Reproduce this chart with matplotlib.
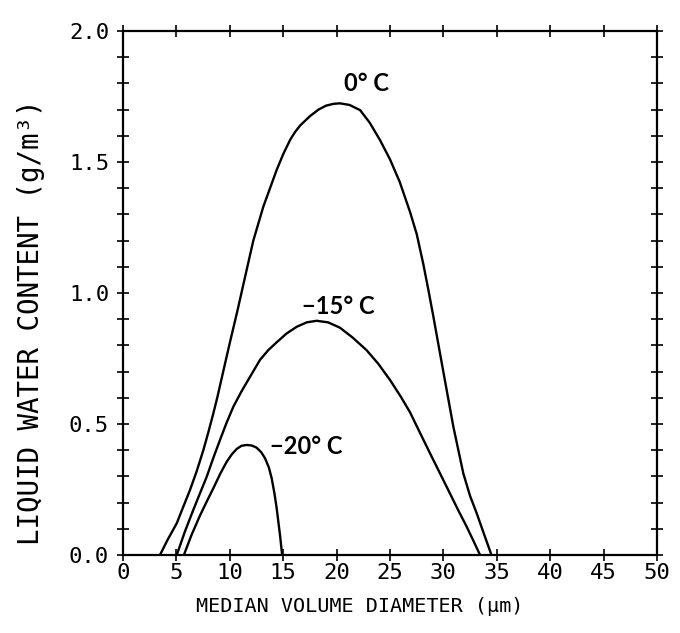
import matplotlib
matplotlib.use("Agg")
import matplotlib.pyplot as plt
from matplotlib.ticker import MultipleLocator, FormatStrFormatter

# 0 deg C curve
x_0c = [3.46, 4.2, 5.03, 5.7, 6.27, 6.9, 7.52, 8.0, 8.46, 8.85, 9.24, 10.0, 10.7, 11.42,
        12.2, 13.14, 14.39, 15.0, 15.64, 16.1, 16.6, 17.5, 18.3, 19.0, 19.7, 20.3, 21.2, 22.2,
        23.1, 24.06, 25.0, 25.9, 26.87, 27.5, 28.12, 28.6, 29.06, 29.99, 30.93, 31.86, 32.5,
        33.12, 33.8, 34.5]
y_0c = [0.0, 0.06, 0.121, 0.19, 0.248, 0.32, 0.40, 0.47, 0.541, 0.605, 0.675, 0.81, 0.93, 1.06,
        1.20, 1.33, 1.47, 1.53, 1.584, 1.614, 1.64, 1.675, 1.70, 1.715, 1.722, 1.724, 1.718, 1.698,
        1.65, 1.584, 1.51, 1.425, 1.31, 1.225, 1.11, 1.01, 0.91, 0.70, 0.49, 0.312, 0.225,
        0.159, 0.08, 0.0]

# -15 deg C curve
x_15c = [5.03, 5.8, 6.58, 7.2, 7.84, 8.45, 9.08, 9.7, 10.33, 11.1, 11.89, 12.83, 13.6,
         14.39, 15.3, 16.26, 17.2, 18.13, 19.2, 20.3, 21.5, 22.8, 23.9, 25.0, 26.0,
         26.87, 27.8, 28.75, 29.7, 30.6, 31.4, 32.18, 32.8, 33.43]
y_15c = [0.0, 0.09, 0.172, 0.235, 0.299, 0.37, 0.439, 0.505, 0.566, 0.625, 0.68, 0.745, 0.782,
         0.812, 0.845, 0.871, 0.888, 0.894, 0.888, 0.868, 0.83, 0.782, 0.73, 0.668, 0.605,
         0.545, 0.467, 0.388, 0.31, 0.236, 0.17, 0.108, 0.055, 0.0]

# -20 deg C curve
x_20c = [5.7, 6.4, 7.2, 7.85, 8.46, 9.1, 9.71, 10.2, 10.65, 11.1, 11.58, 12.05, 12.5,
         12.95, 13.3, 13.65, 13.92, 14.18, 14.39, 14.55, 14.7, 14.9]
y_20c = [0.0, 0.075, 0.15, 0.205, 0.255, 0.31, 0.356, 0.385, 0.405, 0.417, 0.42, 0.418, 0.41,
         0.392, 0.369, 0.335, 0.293, 0.235, 0.178, 0.125, 0.076, 0.0]

labels = ["0° C", "\u221215° C", "\u221220° C"]
label_x = [22.8, 20.2, 17.2]
label_y = [1.80, 0.95, 0.415]

x_ticks = [0, 5, 10, 15, 20, 25, 30, 35, 40, 45, 50]
y_ticks = [0.0, 0.5, 1.0, 1.5, 2.0]

fig = plt.figure(figsize=(6.8, 6.33), dpi=100)
ax = fig.add_axes([0.1809, 0.1232, 0.7853, 0.8278])

lw = 1.7
for xs, ys in [(x_0c, y_0c), (x_15c, y_15c), (x_20c, y_20c)]:
    ax.plot(xs, ys, color="black", lw=lw, solid_capstyle="butt", solid_joinstyle="round")

ax.set_xlim(0, 50)
ax.set_ylim(0, 2.0)
ax.set_xticks(x_ticks)
ax.set_yticks(y_ticks)
ax.yaxis.set_major_formatter(FormatStrFormatter("%.1f"))
ax.yaxis.set_minor_locator(MultipleLocator(0.1))

for sp in ax.spines.values():
    sp.set_linewidth(1.6)

ax.tick_params(axis="both", which="both", direction="inout", top=True, right=True,
               width=1.2, colors="black")
ax.tick_params(axis="both", which="major", length=8)
ax.tick_params(axis="y", which="minor", length=8)
ax.tick_params(axis="x", which="major", pad=2)
ax.tick_params(axis="y", which="major", pad=6)

mono = "DejaVu Sans Mono"
for t in ax.get_xticklabels() + ax.get_yticklabels():
    t.set_fontfamily(mono)
    t.set_fontsize(16)

fig.text(360 / 680, 1 - 607 / 633, "MEDIAN VOLUME DIAMETER (\u03bcm)", fontfamily=mono,
         fontsize=14.5, ha="center", va="center")
fig.text(31 / 680, 1 - 322 / 633, "LIQUID WATER CONTENT (g/m\u00b3)", fontfamily=mono,
         fontsize=19.8, ha="center", va="center", rotation=90)

for s, lx, ly in zip(labels, label_x, label_y):
    ax.text(lx, ly, s, ha="center", va="center", fontsize=17, fontweight="bold",
            family=["Lato", "DejaVu Sans"])

fig.savefig("out.png", dpi=100)
